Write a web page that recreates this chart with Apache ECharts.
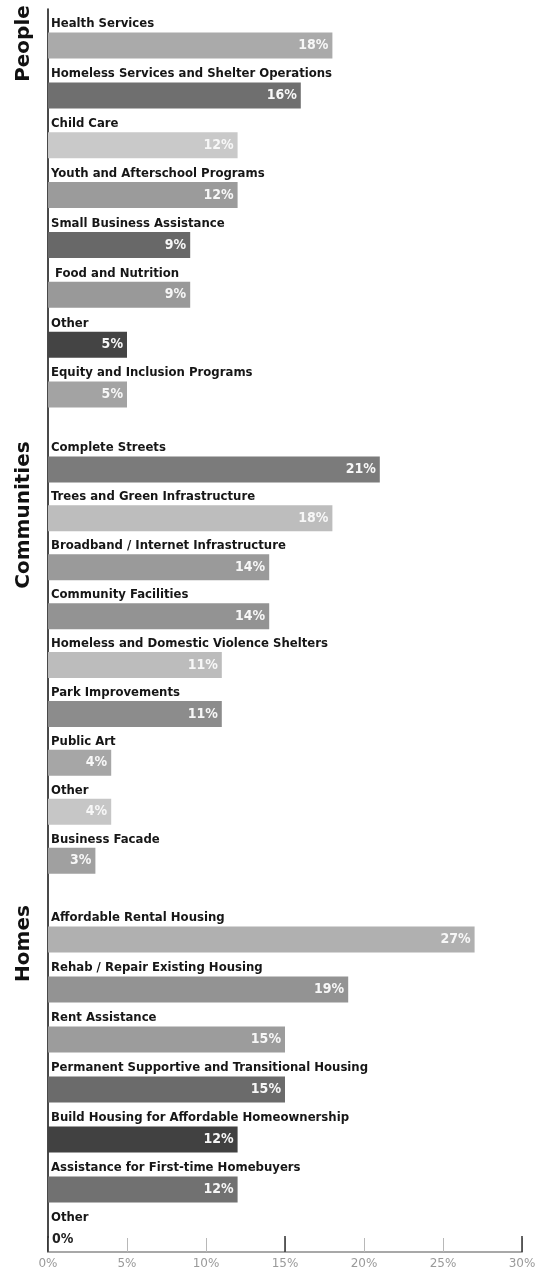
<!DOCTYPE html>
<html>
<head>
<meta charset="utf-8">
<script src="https://cdn.jsdelivr.net/npm/echarts@6/dist/echarts.min.js"></script>
<style>
  html, body { margin: 0; padding: 0; background: #fff; }
  #chart { width: 539px; height: 1270px; }
</style>
</head>
<body>
<div id="chart"></div>
<script>
// Share of funding by program area, grouped by priority
const peopleCats = [
  'Health Services', 'Homeless Services and Shelter Operations', 'Child Care',
  'Youth and Afterschool Programs', 'Small Business Assistance', ' Food and Nutrition',
  'Other', 'Equity and Inclusion Programs'
];
const peopleVals = [18, 16, 12, 12, 9, 9, 5, 5];

const communityCats = [
  'Complete Streets', 'Trees and Green Infrastructure', 'Broadband / Internet Infrastructure',
  'Community Facilities', 'Homeless and Domestic Violence Shelters', 'Park Improvements',
  'Public Art', 'Other', 'Business Facade'
];
const communityVals = [21, 18, 14, 14, 11, 11, 4, 4, 3];

const homeCats = [
  'Affordable Rental Housing', 'Rehab / Repair Existing Housing', 'Rent Assistance',
  'Permanent Supportive and Transitional Housing', 'Build Housing for Affordable Homeownership',
  'Assistance for First-time Homebuyers', 'Other'
];
const homeVals = [27, 19, 15, 15, 12, 12, 0];

const groupNames = ['People', 'Communities', 'Homes'];

// Bar shades (one per bar, in the same order as the categories)
const peopleShades = ['#aaaaaa', '#6f6f6f', '#c9c9c9', '#9b9b9b', '#686868', '#999999', '#444444', '#a3a3a3'];
const communityShades = ['#7b7b7b', '#bdbdbd', '#9a9a9a', '#939393', '#bcbcbc', '#8c8c8c', '#a6a6a6', '#c6c6c6', '#a0a0a0'];
const homeShades = ['#b0b0b0', '#939393', '#9c9c9c', '#6b6b6b', '#414141', '#717171', '#888888'];

const NARROW = "'Liberation Sans Narrow', 'DejaVu Sans Condensed', 'Roboto Condensed', 'Liberation Sans', sans-serif";

const chart = echarts.init(document.getElementById('chart'), null, { renderer: 'canvas' });

const LEFT = 48, RIGHT = 17;

// layout of the three group panels
const panels = [
  { top: 20.6, bottom: 850.5 },
  { top: 445.0, bottom: 384.9 },
  { top: 914.5, bottom: 5.5 }
];

function buildData(vals, shades) {
  return vals.map((v, i) => {
    const item = { value: v, itemStyle: { color: shades[i] } };
    if (v === 0) {
      item.label = { position: 'right', color: '#222', distance: 4 };
    }
    return item;
  });
}

const catAxis = (gridIndex, cats) => ({
  type: 'category',
  gridIndex,
  data: cats,
  inverse: true,
  axisLine: { show: false },
  axisTick: { show: false },
  splitLine: { show: false },
  axisLabel: {
    inside: true,
    margin: 3,
    color: '#161616',
    fontFamily: NARROW,
    fontWeight: 'bold',
    fontSize: 13,
    verticalAlign: 'bottom',
    padding: [0, 0, 15, 0]
  }
});

const hiddenX = (gridIndex) => ({
  type: 'value', gridIndex, min: 0, max: 30, interval: 5, show: false
});

const barSeries = (axisIdx, vals, shades) => ({
  type: 'bar',
  xAxisIndex: axisIdx + 1,
  yAxisIndex: axisIdx,
  barWidth: 26,
  data: buildData(vals, shades),
  label: {
    show: true,
    position: 'insideRight',
    distance: 4,
    formatter: '{c}%',
    color: '#f7f7f7',
    fontFamily: NARROW,
    fontWeight: 'bold',
    fontSize: 14
  },
  silent: true,
  animation: false
});

const option = {
  backgroundColor: '#ffffff',
  animation: false,
  grid: [
    { left: LEFT, right: RIGHT, top: 9, bottom: 16.5 },
    { left: LEFT, right: RIGHT, top: panels[0].top, bottom: panels[0].bottom },
    { left: LEFT, right: RIGHT, top: panels[1].top, bottom: panels[1].bottom },
    { left: LEFT, right: RIGHT, top: panels[2].top, bottom: panels[2].bottom }
  ],
  xAxis: [
    {
      type: 'value', gridIndex: 0, position: 'bottom', min: 0, max: 30, interval: 5,
      axisLine: { show: true, lineStyle: { color: '#a8a8a8', width: 2 } },
      axisTick: { show: true, inside: true, length: 14, lineStyle: { color: '#b8b8b8', width: 1 } },
      splitLine: { show: false },
      axisLabel: { formatter: '{value}%', color: '#9a9a9a', fontSize: 12, margin: 6, fontFamily: "'DejaVu Sans', sans-serif" }
    },
    {
      type: 'value', gridIndex: 0, position: 'bottom', min: 0, max: 30, interval: 15,
      axisLine: { show: false },
      axisTick: { show: true, inside: true, length: 16, lineStyle: { color: '#333333', width: 1.5 } },
      splitLine: { show: false },
      axisLabel: { show: false }
    },
    hiddenX(1), hiddenX(2), hiddenX(3)
  ],
  yAxis: [
    {
      type: 'value', gridIndex: 0, min: 0, max: 1,
      axisLine: { show: true, lineStyle: { color: '#1c1c1c', width: 1.6 } },
      axisTick: { show: false }, axisLabel: { show: false }, splitLine: { show: false }
    },
    catAxis(1, peopleCats),
    catAxis(2, communityCats),
    catAxis(3, homeCats)
  ],
  series: [
    barSeries(1, peopleVals, peopleShades),
    barSeries(2, communityVals, communityShades),
    barSeries(3, homeVals, homeShades)
  ],
  graphic: [
    [24, 43.5], [24, 515], [24, 943.5]
  ].map((p, i) => ({
    type: 'text',
    x: p[0],
    y: p[1],
    rotation: Math.PI / 2,
    silent: true,
    style: {
      text: groupNames[i],
      font: "bold 20px 'DejaVu Sans', sans-serif",
      fill: '#111111',
      textAlign: 'center',
      textVerticalAlign: 'middle',
      align: 'center',
      verticalAlign: 'middle'
    }
  }))
};

chart.setOption(option);
</script>
</body>
</html>
